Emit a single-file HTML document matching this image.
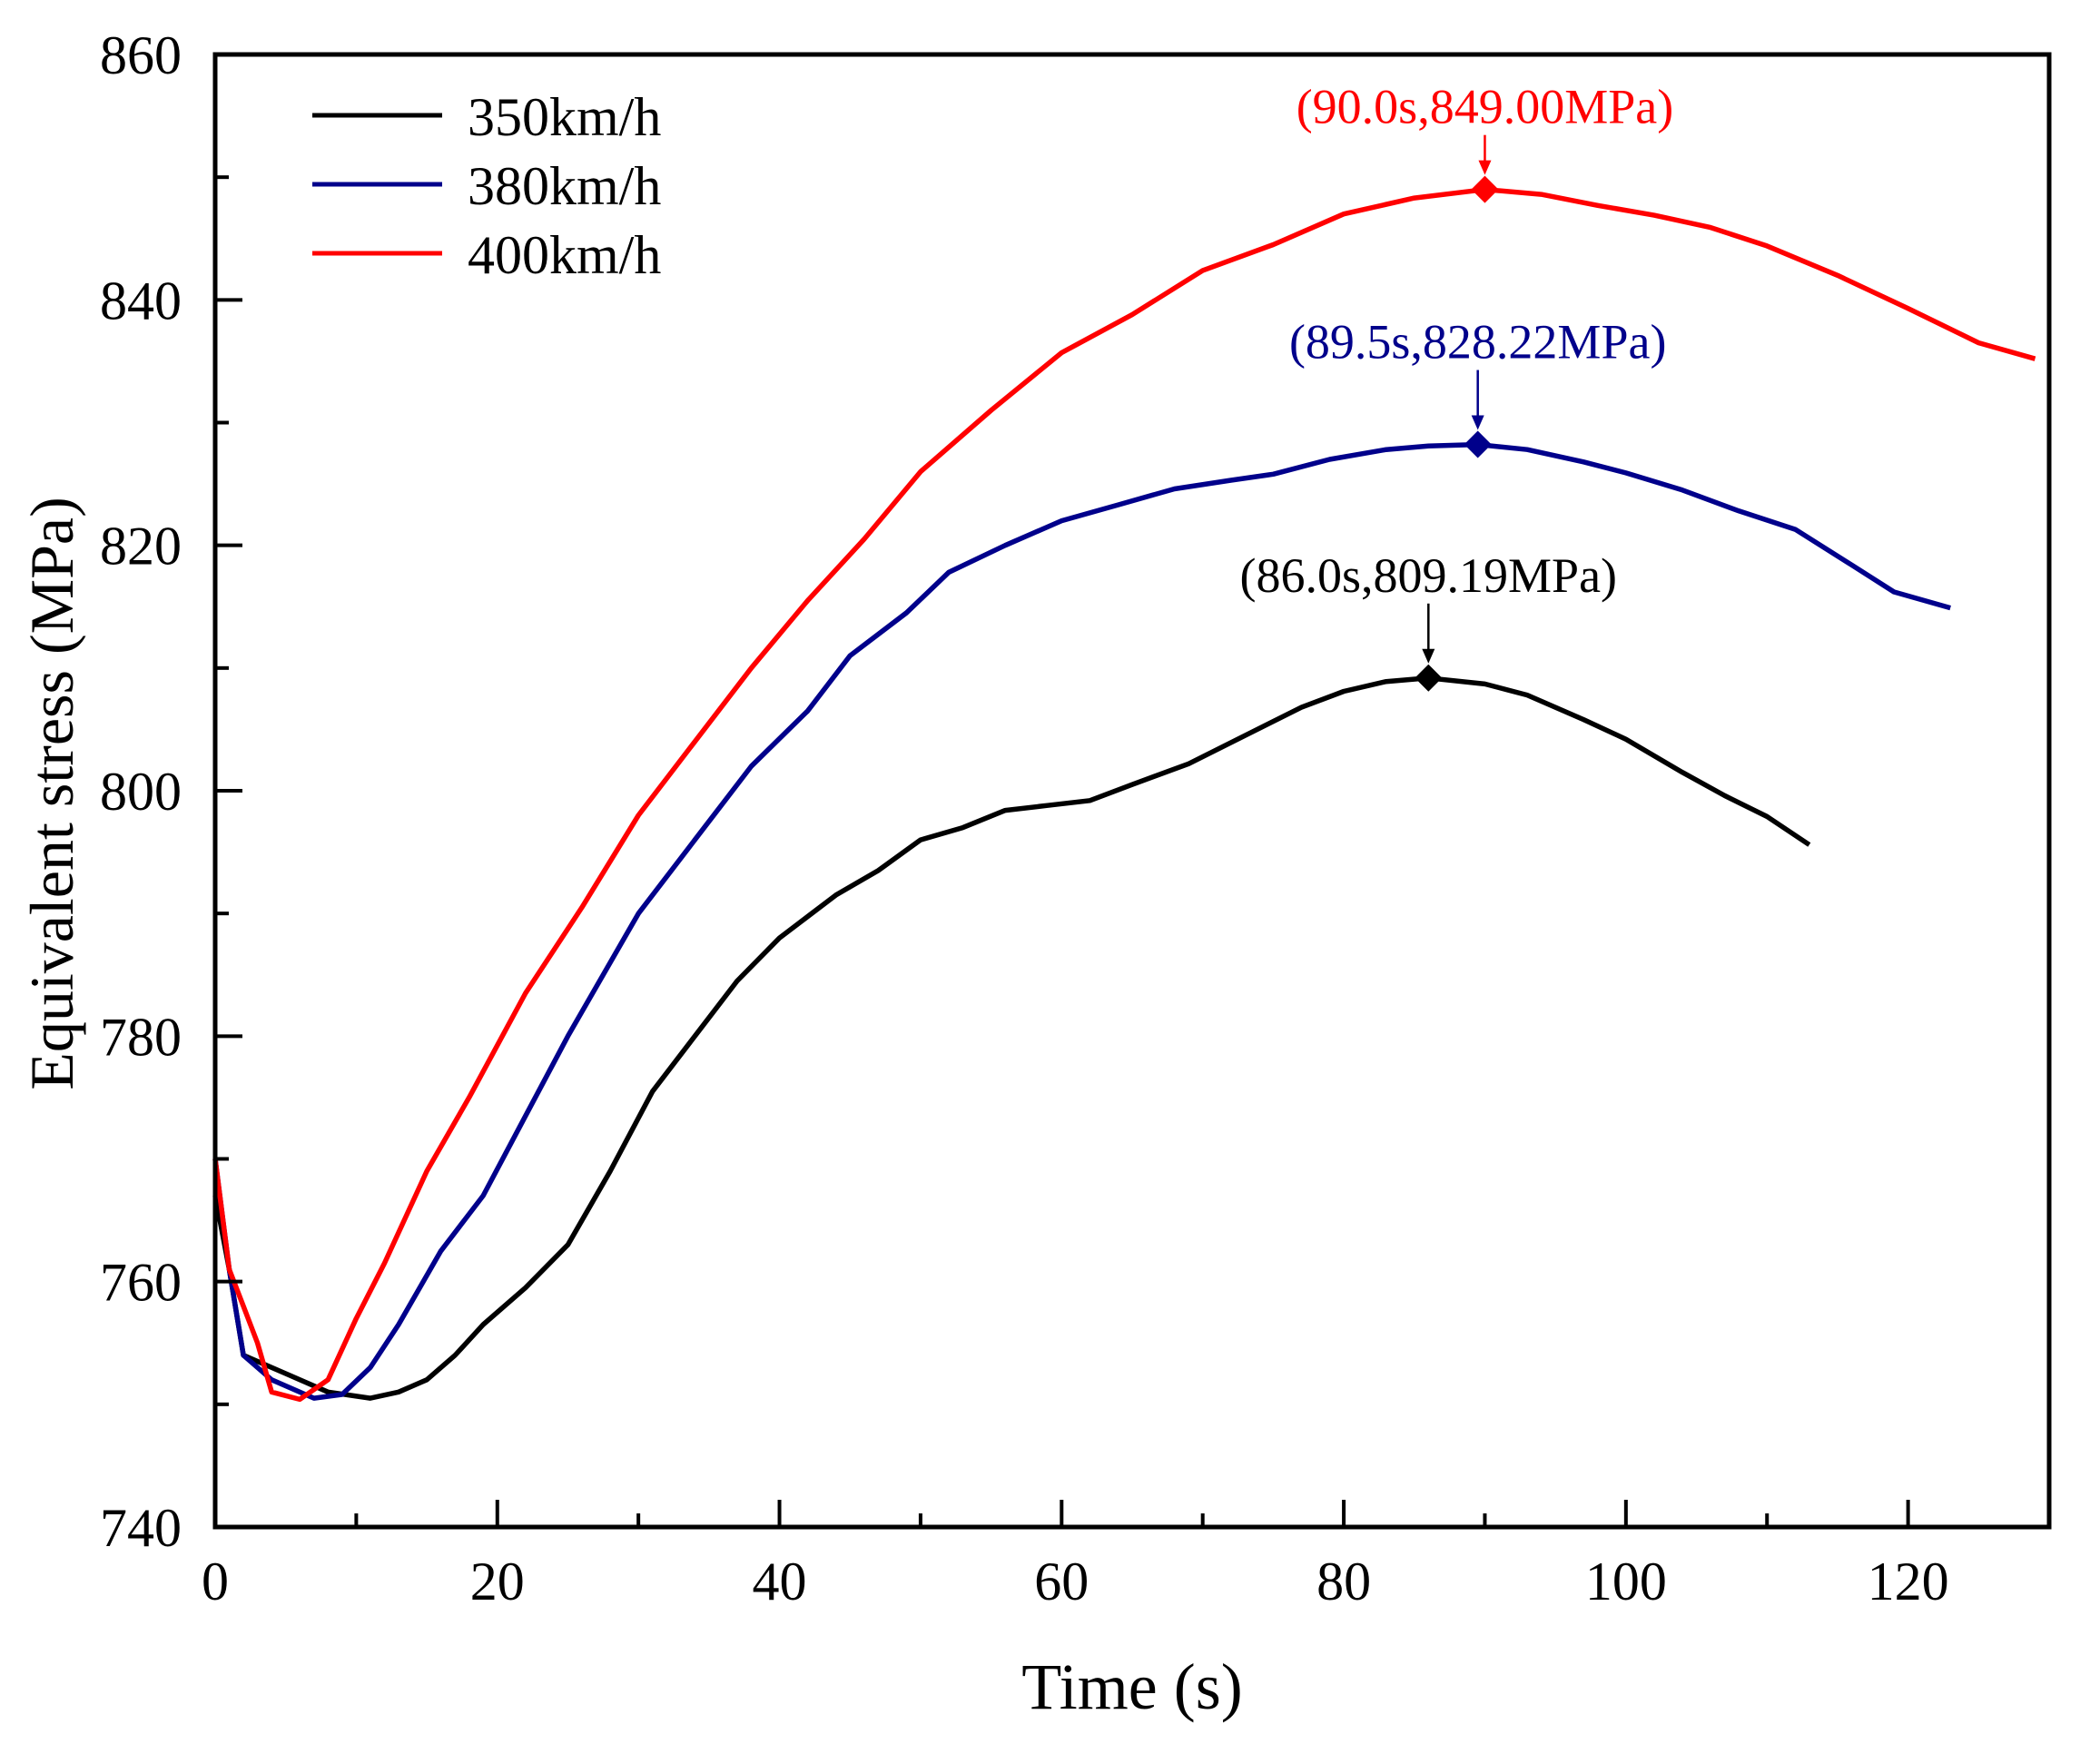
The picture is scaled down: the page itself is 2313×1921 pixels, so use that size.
<!DOCTYPE html>
<html><head><meta charset="utf-8"><style>
body{margin:0;background:#fff}
svg{display:block;font-family:"Liberation Serif",serif}
</style></head><body>
<svg id="chart" width="2313" height="1921" viewBox="0 0 2313 1921" xmlns="http://www.w3.org/2000/svg">
<g id="grid"></g>
<g id="series"></g>
<g id="ann"></g>
<g id="axes"></g>
<g>
 <line x1="344" y1="127" x2="487" y2="127" stroke="#000" stroke-width="5"/>
 <text x="515" y="149" font-size="60">350km/h</text>
 <line x1="344" y1="203" x2="487" y2="203" stroke="#00008b" stroke-width="5"/>
 <text x="515" y="225" font-size="60">380km/h</text>
 <line x1="344" y1="279" x2="487" y2="279" stroke="#ff0000" stroke-width="5"/>
 <text x="515" y="301" font-size="60">400km/h</text>
</g>
<text x="1247" y="1882" font-size="72" text-anchor="middle">Time (s)</text>
<text transform="translate(80,874) rotate(-90)" font-size="68" text-anchor="middle">Equivalent stress (MPa)</text>
</svg>
<script>
const t350=[0,1,2,5,8,11,13,15,17,19,22,25,28,31,34,37,40,44,47,50,53,56,59,62,65,69,73,77,80,83,86,90,93,97,100,104,107,110,113];
const s350=[767,761,754,752.5,751,750.5,751,752,754,756.5,759.5,763,769,775.5,780,784.5,788,791.5,793.5,796,797,798.4,798.8,799.2,800.5,802.2,804.5,806.8,808.1,808.9,809.19,808.7,807.8,805.8,804.2,801.5,799.6,797.9,795.6];
const t380=[0,1,2,4,7,9,11,13,16,19,22,25,30,34,38,42,45,49,52,56,60,64,68,72,75,79,83,86,89.5,93,97,100,104,108,112,116,119,123];
const s380=[770,761,754,752,750.5,750.8,753,756.5,762.5,767,773.5,780,790,796,802,806.5,811,814.5,817.8,820,822,823.3,824.6,825.3,825.8,827,827.8,828.1,828.22,827.8,826.8,825.9,824.5,822.8,821.3,818.4,816.2,814.9];
const t400=[0,1,2,3,4,6,8,10,12,15,18,22,26,30,34,38,42,46,50,55,60,65,70,75,80,85,90,94,98,102,106,110,115,120,125,129];
const s400=[770,761,758,755,751,750.4,752,757,761.5,769,775,783.5,790.5,798,804,810,815.5,820.5,826,831,835.7,838.8,842.4,844.5,847,848.3,849.0,848.6,847.7,846.9,845.9,844.4,842,839.3,836.5,835.2];
const peakT=[86.0,89.5,90.0];
const peakS=[809.19,828.22,849.00];
const xTicks=[0,20,40,60,80,100,120];
const yTicks=[740,760,780,800,820,840,860];

const X0=237,X1=2257,Y0=1682,Y1=60,XMIN=0,XMAX=130,YMIN=740,YMAX=860;
const xs=v=>X0+(v-XMIN)/(XMAX-XMIN)*(X1-X0);
const ys=v=>Y0-(v-YMIN)/(YMAX-YMIN)*(Y0-Y1);
const NS="http://www.w3.org/2000/svg";
function mk(tag,parent,attrs){const e=document.createElementNS(NS,tag);for(const k in attrs)e.setAttribute(k,attrs[k]);parent.appendChild(e);return e;}
const S=document.getElementById('series'),A=document.getElementById('axes'),N=document.getElementById('ann');
const series=[[t350,s350,'#000','line-350kmh'],[t380,s380,'#00008b','line-380kmh'],[t400,s400,'#ff0000','line-400kmh']];
series.forEach(([t,s,c,n])=>{
 const p=mk('polyline',S,{points:t.map((v,i)=>xs(v).toFixed(1)+','+ys(s[i]).toFixed(1)).join(' '),fill:'none',stroke:c,'stroke-width':5.5,'stroke-linejoin':'round'});
 
 
});
const fr=mk('rect',A,{x:X0,y:Y1,width:X1-X0,height:Y0-Y1,fill:'none',stroke:'#000','stroke-width':5});


for(let v=10;v<XMAX;v+=10){const major=v%20===0;const l=mk('line',A,{x1:xs(v),x2:xs(v),y1:Y0,y2:Y0-(major?30:15),stroke:'#000','stroke-width':4});
 
 }
for(let v=750;v<YMAX;v+=10){const major=v%20===0;const l=mk('line',A,{x1:X0,x2:X0+(major?30:15),y1:ys(v),y2:ys(v),stroke:'#000','stroke-width':4});
 
 }
xTicks.forEach(v=>{const t=mk('text',A,{x:xs(v),y:Y0+80,'font-size':60,'text-anchor':'middle'});t.textContent=v;
 
 });
yTicks.forEach(v=>{const t=mk('text',A,{x:X0-37,y:ys(v)+21,'font-size':60,'text-anchor':'end'});t.textContent=v;
 
 });
const cols=['#000','#00008b','#ff0000'];
const names=['350','380','400'];
const arrowLen=[82,82,60];
peakT.forEach((t,i)=>{
 const x=xs(t),y=ys(peakS[i]),c=cols[i],L=arrowLen[i];
 const d=mk('polygon',N,{points:`${x},${y-15} ${x+15},${y} ${x},${y+15} ${x-15},${y}`,fill:c});
 
 
 const ar=mk('line',N,{x1:x,y1:y-L,x2:x,y2:y-24,stroke:c,'stroke-width':2.5});
 
 
 const hd=mk('polygon',N,{points:`${x-7},${y-32} ${x+7},${y-32} ${x},${y-16}`,fill:c});
 
 
 const tx=mk('text',N,{x:x,y:y-L-13,'font-size':54,'text-anchor':'middle',fill:c});
 tx.textContent='('+t.toFixed(1)+'s,'+peakS[i].toFixed(2)+'MPa)';
 
 
});
</script>
</body></html>
